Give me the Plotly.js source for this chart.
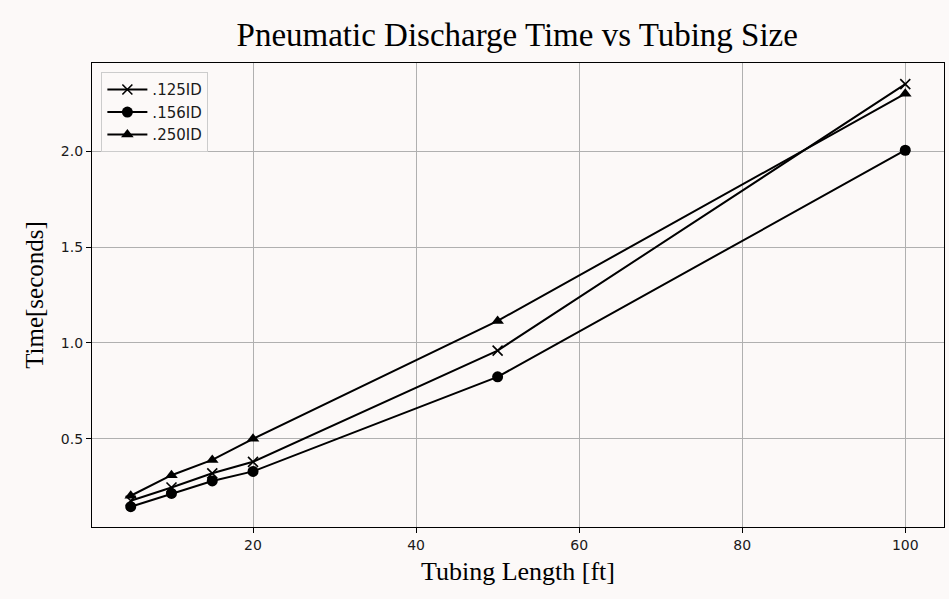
<!DOCTYPE html>
<html>
<head>
<meta charset="utf-8">
<script src="https://cdn.plot.ly/plotly-3.0.1.min.js"></script>
<style>html,body{margin:0;padding:0;background:#fcf9f8;}</style>
</head>
<body>
<div id="chart" style="width:949px;height:599px;"></div>
<script>
const lengths = [5, 10, 15, 20, 50, 100];
const id125 = [0.177, 0.246, 0.32, 0.38, 0.96, 2.35];
const id156 = [0.146, 0.215, 0.28, 0.33, 0.823, 2.005];
const id250 = [0.203, 0.31, 0.39, 0.50, 1.115, 2.30];
const seriesNames = ['.125ID', '.156ID', '.250ID'];
const xTicks = [20, 40, 60, 80, 100];
const yTicks = [0.5, 1.0, 1.5, 2.0];

const bg = '#fcf9f8';
const common = {mode: 'lines+markers', type: 'scatter', line: {color: 'black', width: 2}};
const traces = [
  Object.assign({}, common, {x: lengths, y: id125, name: seriesNames[0],
    marker: {symbol: 'x-thin', size: 10, color: 'black', line: {color: 'black', width: 1.6}}}),
  Object.assign({}, common, {x: lengths, y: id156, name: seriesNames[1],
    marker: {symbol: 'circle', size: 11, color: 'black'}}),
  Object.assign({}, common, {x: lengths, y: id250, name: seriesNames[2],
    marker: {symbol: 'triangle-up', size: 11, color: 'black'}})
];

const axisBase = {
  showline: true, linecolor: 'black', linewidth: 1.2, mirror: true,
  ticks: 'outside', ticklen: 5, tickwidth: 1, tickcolor: 'black',
  showgrid: true, gridcolor: '#b0b0b0', gridwidth: 1, zeroline: false,
  tickfont: {family: 'DejaVu Sans', size: 14, color: '#1a1a1a'}
};

const layout = {
  width: 949, height: 599,
  paper_bgcolor: bg, plot_bgcolor: bg,
  margin: {l: 92, r: 5, t: 63, b: 72},
  title: {text: 'Pneumatic Discharge Time vs Tubing Size', x: 0.545, xanchor: 'center', y: 0.942, yanchor: 'middle',
    font: {family: 'Liberation Serif', size: 33, color: 'black'}},
  xaxis: Object.assign({}, axisBase, {range: [0.25, 104.75], tickvals: xTicks,
    title: {text: 'Tubing Length [ft]', standoff: 9, font: {family: 'Liberation Serif', size: 26, color: 'black'}}}),
  yaxis: Object.assign({}, axisBase, {range: [0.04, 2.46], tickvals: yTicks, tickformat: '.1f',
    title: {text: 'Time[seconds]', standoff: 10, font: {family: 'Liberation Serif', size: 25, color: 'black'}}}),
  showlegend: true,
  legend: {x: 0.011, y: 0.98, xanchor: 'left', yanchor: 'top', bgcolor: bg,
    bordercolor: '#cccccc', borderwidth: 1, font: {family: 'DejaVu Sans', size: 15, color: '#1a1a1a'},
    tracegroupgap: 0, itemwidth: 40}
};

Plotly.newPlot('chart', traces, layout, {displayModeBar: false});
</script>
</body>
</html>
